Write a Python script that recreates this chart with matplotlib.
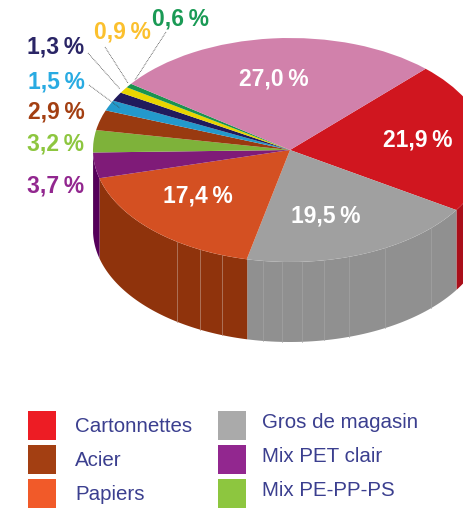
import numpy as np
import matplotlib
matplotlib.use("Agg")
import matplotlib.pyplot as plt
from matplotlib.patches import Rectangle

# ---- data (clockwise from the pink/red seam)
slice_names = ["Cartonnettes", "Gros de magasin", "Papiers", "Mix PET clair", "Mix PE-PP-PS",
               "Acier", "s7", "s8", "s9", "s10", "s11"]
values = [21.9, 19.5, 17.4, 3.7, 3.2, 2.9, 1.5, 1.3, 0.9, 0.6, 27.0]
top_colors = ["#d0161f", "#a0a0a0", "#d45022", "#7f1b78", "#7eb23a", "#993a10",
              "#2399cc", "#201a5c", "#e8d500", "#1a9350", "#d181ab"]
wall_colors = ["#aa0f1a", "#909090", "#8f330c", "#55005a", "#5f8a2a", "#7a2d0c",
               "#1b7aa3", "#151040", "#b8a800", "#12703c", "#a8648a"]
label_colors = ["#ffffff", "#ffffff", "#ffffff", "#92278f", "#8dc63f", "#a33f12",
                "#29abe2", "#2a2566", "#fbc02d", "#1a9a55", "#ffffff"]
label_pos = [(418, 146), (326, 222), (198, 203), (56, 192), (56, 151), (56, 118),
             (56, 88), (56, 53), (122, 38), (181, 25), (274, 85)]

legend_left = ["Cartonnettes", "Acier", "Papiers"]
legend_left_colors = ["#ed1c24", "#a33f12", "#f15a29"]
legend_right = ["Gros de magasin", "Mix PET clair", "Mix PE-PP-PS"]
legend_right_colors = ["#aaaaaa", "#92278f", "#8dc63f"]

W, H = 464, 509
CX, CY, RX, RY, DEPTH = 290, 150, 197, 112, 80
START = 46.5
FONT = ["Liberation Sans", "DejaVu Sans"]

fig = plt.figure(figsize=(W / 100, H / 100), dpi=100, facecolor="white")

# pie axes: unit circle maps on to the tilted ellipse
ax = fig.add_axes([0, 0, 1, 1])
ax.pie(values, colors=top_colors, startangle=START, counterclock=False, radius=1,
       center=(0, 0), wedgeprops=dict(linewidth=0.2, edgecolor="none"), frame=True)
ax.set_aspect("auto")
ax.set_xlim(-CX / RX, (W - CX) / RX)
ax.set_ylim((CY - H) / RY, CY / RY)
ax.axis("off")

# side walls
edges = START - np.cumsum([0] + values) * 3.6
d = DEPTH / RY
for a0, a1, col in zip(edges[:-1], edges[1:], wall_colors):
    lo, hi = max(a1, -180), min(a0, 0)
    if lo >= hi:
        continue
    t = np.radians(np.linspace(hi, lo, 60))
    x, y = np.cos(t), np.sin(t)
    ax.fill(np.r_[x, x[::-1]], np.r_[y, y[::-1] - d], color=col, lw=0, zorder=0.5)

# pale vertical seams on the wall
seam_x = [177, 200, 222, 263, 282, 302, 324, 349, 385, 431]
for sx in seam_x:
    u = (sx - CX) / RX
    yt = -np.sqrt(1 - u * u)
    ax.plot([u, u], [yt, yt - d], color="#b98a75" if sx < 243 else "#a4a4a4", lw=0.5, zorder=0.6)

# pixel overlay for text and legend
ov = fig.add_axes([0, 0, 1, 1], facecolor="none")
ov.set_xlim(0, W)
ov.set_ylim(H, 0)
ov.axis("off")

for v, (px, py), col in zip(values, label_pos, label_colors):
    s = f"{v:.1f}".replace(".", ",") + "\u2009%"
    ov.text(px, py, s, color=col, fontsize=16.5, fontweight="bold", family=FONT,
            ha="center", va="baseline")

leaders = [((88, 53), (120, 89)), ((105, 47), (128, 83)), ((166, 32), (135, 80)), ((89, 85), (120, 108))]
for a, b in leaders:
    ov.plot([a[0], b[0]], [a[1], b[1]], color="#444444", lw=0.6, ls=(0, (1, 1)))

for names, cols, sq_x, tx, tys in [
    (legend_left, legend_left_colors, 28, 75, [432, 466, 500]),
    (legend_right, legend_right_colors, 218, 262, [428, 462, 496]),
]:
    for n, c, sy, ty in zip(names, cols, [411, 445, 479], tys):
        ov.add_patch(Rectangle((sq_x, sy), 28, 29, color=c, lw=0))
        ov.text(tx, ty, n, color="#3b3f8f", fontsize=14.8, family=FONT, ha="left", va="baseline")

fig.savefig("out.png", dpi=100)
